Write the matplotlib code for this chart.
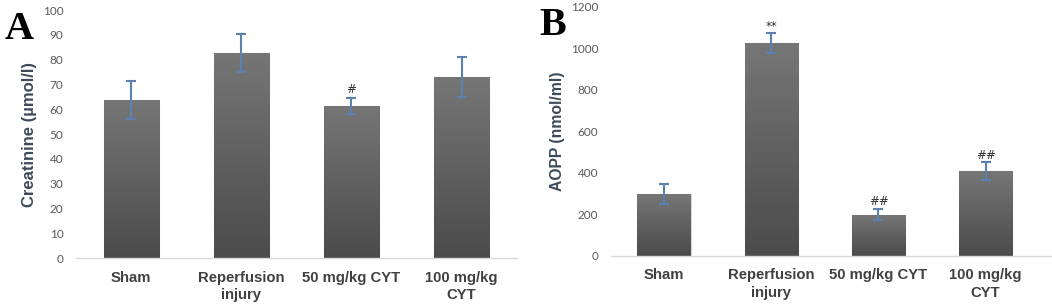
import numpy as np
import matplotlib as mpl
import matplotlib.pyplot as plt
from matplotlib.colors import LinearSegmentedColormap

mpl.use('agg')
plt.rcParams['font.family'] = ['Liberation Sans', 'DejaVu Sans']

groups = ["Sham", "Reperfusion\ninjury", "50 mg/kg CYT", "100 mg/kg\nCYT"]

creat_mean = [63.7, 82.7, 61.2, 72.9]
creat_err = [7.8, 7.5, 3.2, 8.0]
creat_marks = ["", "", "#", ""]

aopp_mean = [297, 1023, 198, 408]
aopp_err = [50, 48, 27, 42]
aopp_marks = ["", "**", "##", "##"]

bar_cmap = LinearSegmentedColormap.from_list("bar", ["#4b4b4b", "#767676"])
err_col = "#5a82b0"
tick_col = "#595959"
lab_col = "#404040"


def panel(ax, means, errs, marks, ymax, ystep, ylabel, ylab_size, letter, xmax,
          let_x, let_y, off):
    x = np.arange(len(groups))
    bars = ax.bar(x, means, width=0.5, color="#5e5e5e", edgecolor="#d8d8d8",
                  linewidth=0.8, zorder=2)
    grad = np.linspace(0, 1, 256).reshape(-1, 1)
    for b in bars:
        x0, y0 = b.get_x(), b.get_y()
        im = ax.imshow(grad, cmap=bar_cmap, origin="lower", aspect="auto",
                       extent=[x0, x0 + b.get_width(), y0, y0 + b.get_height()], zorder=2.1)
        im.set_clip_path(b)
    ax.errorbar(x, means, yerr=errs, fmt="none", ecolor=err_col, elinewidth=1.5,
                capsize=3.5, capthick=1.5, zorder=3)
    for xi, m, e, t in zip(x, means, errs, marks):
        if t:
            ax.text(xi, m + e + off, t, ha="center", va="bottom", fontsize=8.5,
                    color="#303030", family="DejaVu Sans")
    ax.set_xlim(-0.5, xmax)
    ax.set_ylim(0, ymax)
    ax.set_yticks(np.arange(0, ymax + 1, ystep))
    ax.set_xticks(x)
    ax.set_xticklabels(groups, fontsize=10.7, fontweight="bold", color=lab_col,
                       linespacing=1.35)
    ax.tick_params(axis="both", length=0)
    ax.tick_params(axis="x", pad=9)
    ax.tick_params(axis="y", pad=9, labelsize=8.5, labelcolor=tick_col)
    for yl in ax.get_yticklabels():
        yl.set_family("Lato")
    for s in ["top", "right", "left"]:
        ax.spines[s].set_visible(False)
    ax.spines["bottom"].set_color("#d9d9d9")
    ax.spines["bottom"].set_linewidth(1.0)
    ax.set_ylabel(ylabel, fontsize=ylab_size, fontweight="bold", color="#3d4a5a",
                  labelpad=4)
    ax.text(let_x, let_y, letter, transform=ax.figure.transFigure, fontsize=29,
            fontweight="bold", family="Liberation Serif", va="baseline", ha="left")


fig = plt.figure(figsize=(10.52, 3.05), dpi=100)
ax1 = fig.add_axes([0.0722, 0.154, 0.419, 0.813])
ax2 = fig.add_axes([0.5805, 0.1616, 0.4195, 0.8164])

panel(ax1, creat_mean, creat_err, creat_marks, 100, 10, "Creatinine (µmol/l)", 12,
      "A", 3.5, 0.004, 0.872, 0.8)
panel(ax2, aopp_mean, aopp_err, aopp_marks, 1200, 200, "AOPP (nmol/ml)", 11.3,
      "B", 3.62, 0.513, 0.885, 4)

fig.savefig("out.png", dpi=100)
